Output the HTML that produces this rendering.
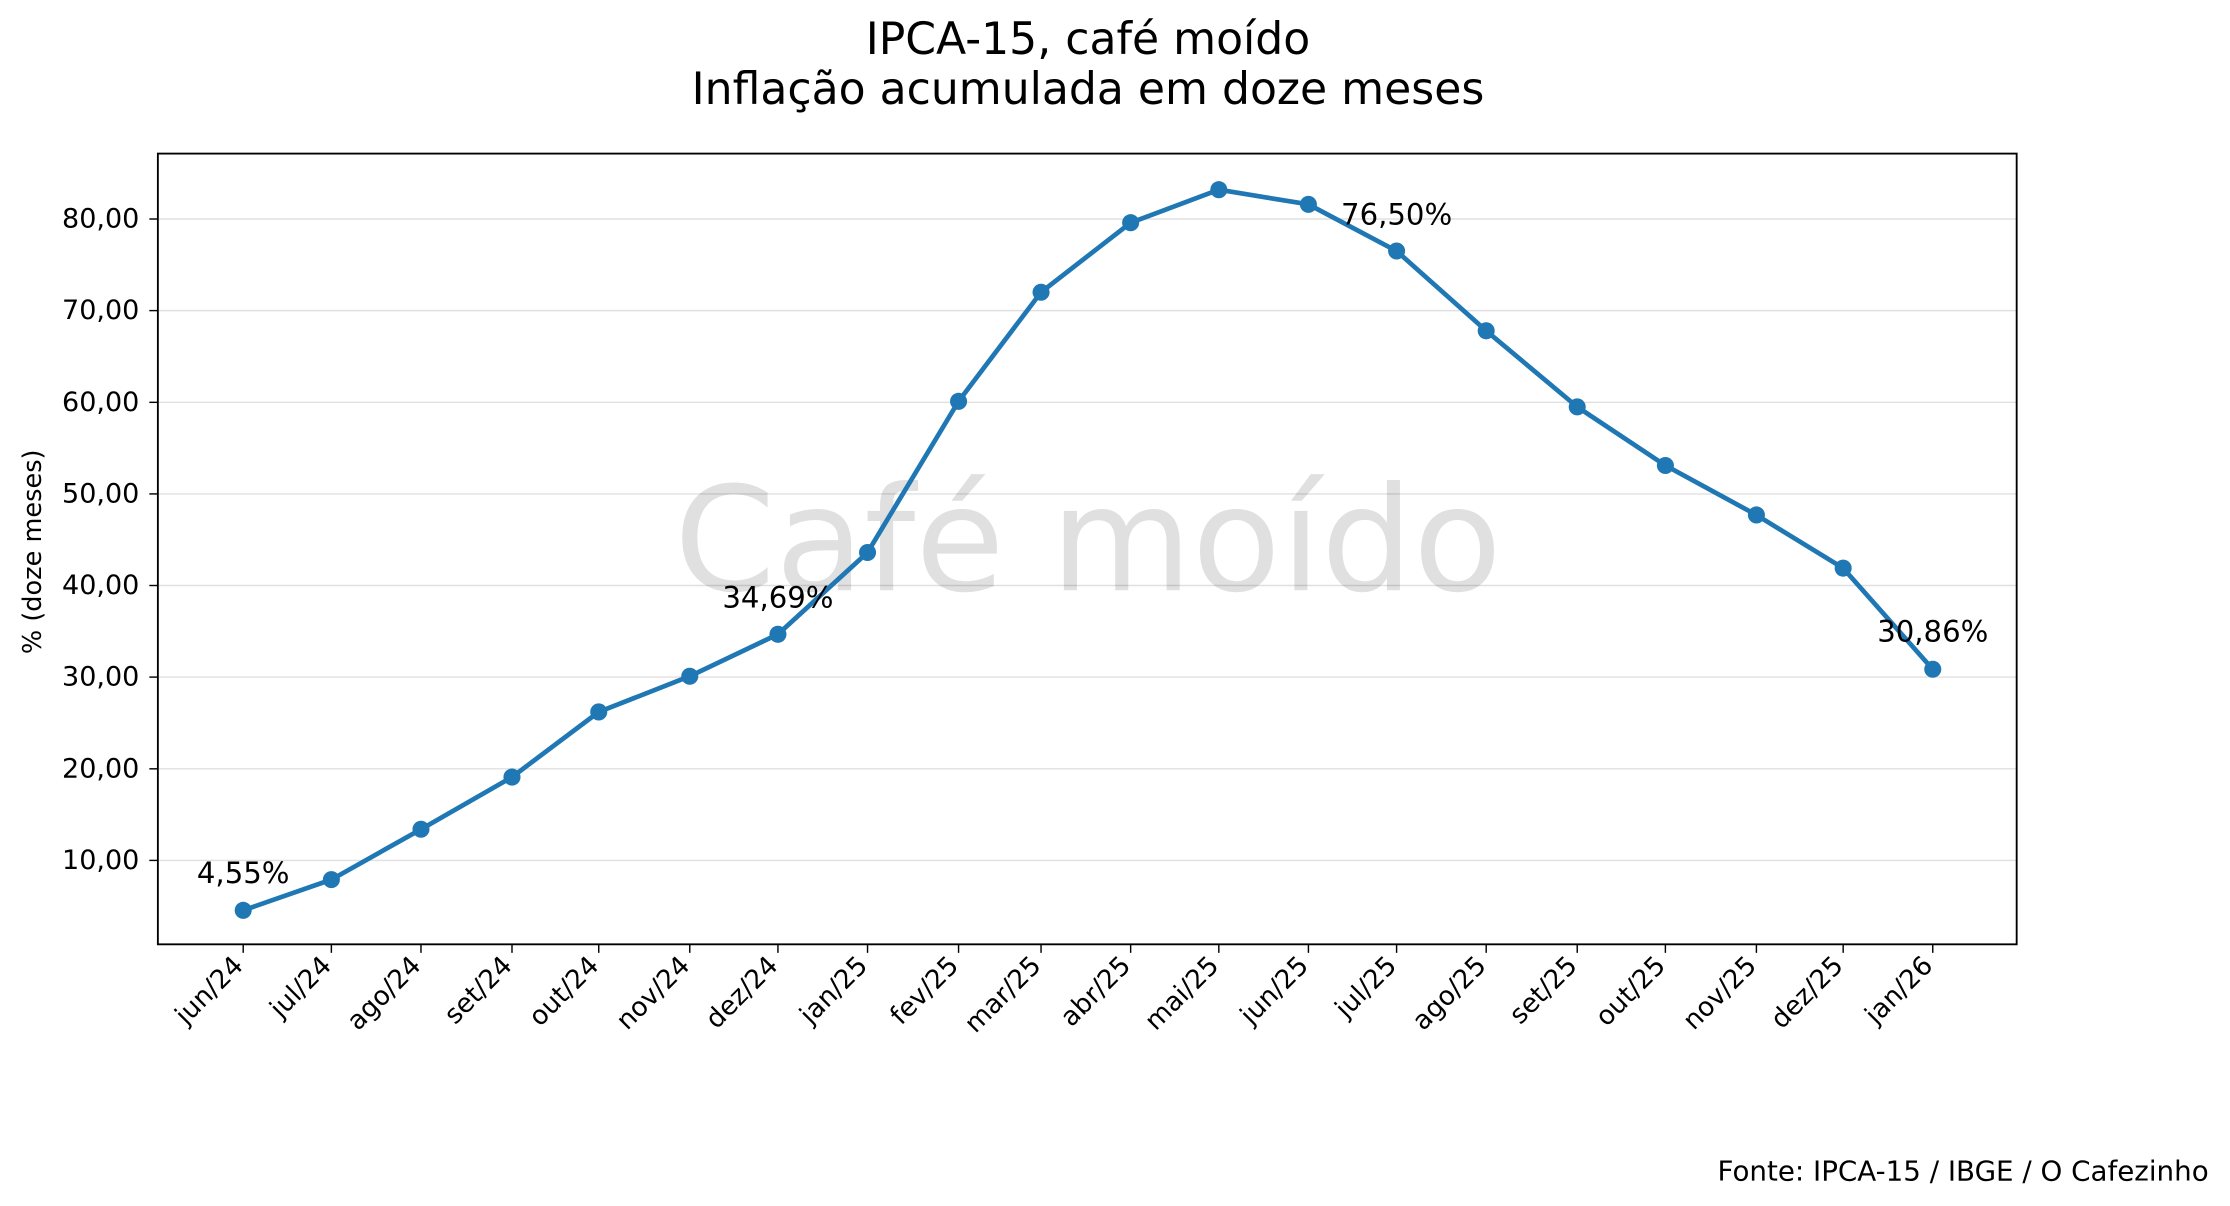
<!DOCTYPE html>
<html><head><meta charset="utf-8"><style>html,body{margin:0;padding:0;background:#fff}svg{display:block}</style></head>
<body>
<svg width="2230" height="1206" viewBox="0 0 1568 848" preserveAspectRatio="none" xmlns="http://www.w3.org/2000/svg" font-family="DejaVu Sans, Liberation Sans, sans-serif">
<rect width="1568" height="848" fill="#fff"/>
<text x="765" y="38" font-size="31" text-anchor="middle" fill="#000">IPCA-15, café moído</text>
<text x="765" y="73" font-size="31" text-anchor="middle" fill="#000">Inflação acumulada em doze meses</text>
<g stroke="#e0e0e0" stroke-width="1">
<line x1="111" x2="1418" y1="605" y2="605"/><line x1="111" x2="1418" y1="540.6" y2="540.6"/><line x1="111" x2="1418" y1="476.1" y2="476.1"/><line x1="111" x2="1418" y1="411.7" y2="411.7"/><line x1="111" x2="1418" y1="347.3" y2="347.3"/><line x1="111" x2="1418" y1="282.9" y2="282.9"/><line x1="111" x2="1418" y1="218.4" y2="218.4"/><line x1="111" x2="1418" y1="154" y2="154"/>
</g>
<text x="765" y="415" font-size="102" text-anchor="middle" fill="#000" fill-opacity="0.12">Café moído</text>
<rect x="111" y="108" width="1307" height="556" fill="none" stroke="#000" stroke-width="1.3"/>
<g font-size="19" text-anchor="end" fill="#000">
<text x="98" y="611">10,00</text><text x="98" y="546.6">20,00</text><text x="98" y="482.1">30,00</text><text x="98" y="417.7">40,00</text><text x="98" y="353.3">50,00</text><text x="98" y="288.9">60,00</text><text x="98" y="224.4">70,00</text><text x="98" y="160">80,00</text>
</g>
<g stroke="#000" stroke-width="1">
<line x1="105" x2="111" y1="605" y2="605"/><line x1="105" x2="111" y1="540.6" y2="540.6"/><line x1="105" x2="111" y1="476.1" y2="476.1"/><line x1="105" x2="111" y1="411.7" y2="411.7"/><line x1="105" x2="111" y1="347.3" y2="347.3"/><line x1="105" x2="111" y1="282.9" y2="282.9"/><line x1="105" x2="111" y1="218.4" y2="218.4"/><line x1="105" x2="111" y1="154" y2="154"/>
</g>
<text transform="translate(29,388) rotate(-90)" font-size="18" text-anchor="middle">% (doze meses)</text>
<g stroke="#000" stroke-width="1">
<line x1="171" x2="171" y1="664" y2="670"/><line x1="233" x2="233" y1="664" y2="670"/><line x1="296" x2="296" y1="664" y2="670"/><line x1="360" x2="360" y1="664" y2="670"/><line x1="421" x2="421" y1="664" y2="670"/><line x1="485" x2="485" y1="664" y2="670"/><line x1="547" x2="547" y1="664" y2="670"/><line x1="610" x2="610" y1="664" y2="670"/><line x1="674" x2="674" y1="664" y2="670"/><line x1="732" x2="732" y1="664" y2="670"/><line x1="795" x2="795" y1="664" y2="670"/><line x1="857" x2="857" y1="664" y2="670"/><line x1="920" x2="920" y1="664" y2="670"/><line x1="982" x2="982" y1="664" y2="670"/><line x1="1045" x2="1045" y1="664" y2="670"/><line x1="1109" x2="1109" y1="664" y2="670"/><line x1="1171" x2="1171" y1="664" y2="670"/><line x1="1235" x2="1235" y1="664" y2="670"/><line x1="1296" x2="1296" y1="664" y2="670"/><line x1="1359" x2="1359" y1="664" y2="670"/>
</g>
<g font-size="18.5" text-anchor="end" fill="#000">
<text transform="translate(172,680) rotate(-45)">jun/24</text>
<text transform="translate(234,680) rotate(-45)">jul/24</text>
<text transform="translate(297,680) rotate(-45)">ago/24</text>
<text transform="translate(361,680) rotate(-45)">set/24</text>
<text transform="translate(422,680) rotate(-45)">out/24</text>
<text transform="translate(486,680) rotate(-45)">nov/24</text>
<text transform="translate(548,680) rotate(-45)">dez/24</text>
<text transform="translate(611,680) rotate(-45)">jan/25</text>
<text transform="translate(675,680) rotate(-45)">fev/25</text>
<text transform="translate(733,680) rotate(-45)">mar/25</text>
<text transform="translate(796,680) rotate(-45)">abr/25</text>
<text transform="translate(858,680) rotate(-45)">mai/25</text>
<text transform="translate(921,680) rotate(-45)">jun/25</text>
<text transform="translate(983,680) rotate(-45)">jul/25</text>
<text transform="translate(1046,680) rotate(-45)">ago/25</text>
<text transform="translate(1110,680) rotate(-45)">set/25</text>
<text transform="translate(1172,680) rotate(-45)">out/25</text>
<text transform="translate(1236,680) rotate(-45)">nov/25</text>
<text transform="translate(1297,680) rotate(-45)">dez/25</text>
<text transform="translate(1360,680) rotate(-45)">jan/26</text>
</g>
<polyline fill="none" stroke="#1f77b4" stroke-width="3.3" stroke-linejoin="round" points="171,640.1 233,618.5 296,583.1 360,546.4 421,500.6 485,475.5 547,446 610,388.5 674,282.2 732,205.5 795,156.6 857,133.4 920,143.7 982,176.5 1045,232.6 1109,286.1 1171,327.3 1235,362.1 1296,399.5 1359,470.6"/>
<g fill="#1f77b4">
<circle cx="171" cy="640.1" r="6"/><circle cx="233" cy="618.5" r="6"/><circle cx="296" cy="583.1" r="6"/><circle cx="360" cy="546.4" r="6"/><circle cx="421" cy="500.6" r="6"/><circle cx="485" cy="475.5" r="6"/><circle cx="547" cy="446" r="6"/><circle cx="610" cy="388.5" r="6"/><circle cx="674" cy="282.2" r="6"/><circle cx="732" cy="205.5" r="6"/><circle cx="795" cy="156.6" r="6"/><circle cx="857" cy="133.4" r="6"/><circle cx="920" cy="143.7" r="6"/><circle cx="982" cy="176.5" r="6"/><circle cx="1045" cy="232.6" r="6"/><circle cx="1109" cy="286.1" r="6"/><circle cx="1171" cy="327.3" r="6"/><circle cx="1235" cy="362.1" r="6"/><circle cx="1296" cy="399.5" r="6"/><circle cx="1359" cy="470.6" r="6"/>
</g>
<g font-size="20.5" fill="#000" text-anchor="middle">
<text x="171" y="621">4,55%</text>
<text x="547" y="427">34,69%</text>
<text x="982" y="158">76,50%</text>
<text x="1359" y="451">30,86%</text>
</g>
<text x="1553" y="830" font-size="19.5" text-anchor="end">Fonte: IPCA-15 / IBGE / O Cafezinho</text>
</svg>
</body></html>
